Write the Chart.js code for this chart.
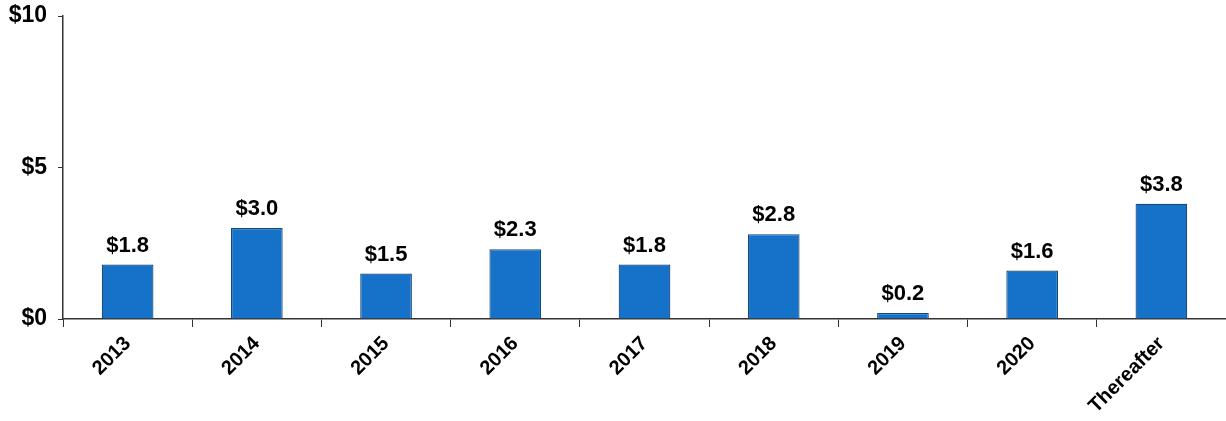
<!DOCTYPE html>
<html>
<head>
<meta charset="utf-8">
<script src="https://cdn.jsdelivr.net/npm/chart.js@4/dist/chart.umd.min.js"></script>
<style>
  html, body { margin: 0; padding: 0; background: #fff; }
  #wrap { width: 1226px; height: 421px; }
</style>
</head>
<body>
<div id="wrap"><canvas id="chart"></canvas></div>
<script>
// maturities by year, $ billions
const categories = ['2013', '2014', '2015', '2016', '2017', '2018', '2019', '2020', 'Thereafter'];
const amounts = [1.8, 3.0, 1.5, 2.3, 1.8, 2.8, 0.2, 1.6, 3.8];
const yTicks = [0, 5, 10];

const FONT = '"Liberation Sans", Arial, sans-serif';

// draws the $ value above each bar
const valueLabels = {
    id: 'valueLabels',
    afterDatasetsDraw(chart) {
        const ctx = chart.ctx;
        const meta = chart.getDatasetMeta(0);
        ctx.save();
        ctx.font = 'bold 22px ' + FONT;
        ctx.fillStyle = '#000';
        ctx.textAlign = 'center';
        ctx.textBaseline = 'bottom';
        meta.data.forEach((bar, i) => {
            ctx.fillText('$' + amounts[i].toFixed(1), bar.x, bar.y - 8);
        });
        ctx.restore();
    }
};

new Chart(document.getElementById('chart'), {
    type: 'bar',
    data: {
        labels: categories,
        datasets: [{
            data: amounts,
            backgroundColor: '#1672c8',
            borderColor: '#17467a',
            borderWidth: 1.2,
            barPercentage: 0.4,
            categoryPercentage: 1.0
        }]
    },
    options: {
        responsive: true,
        maintainAspectRatio: false,
        animation: false,
        layout: { padding: { top: 16, right: 0, left: 0, bottom: 0 } },
        plugins: {
            legend: { display: false },
            tooltip: { enabled: false }
        },
        scales: {
            x: {
                grid: {
                    offset: true,
                    drawOnChartArea: false,
                    drawTicks: true,
                    tickLength: 8,
                    color: '#333'
                },
                border: { color: '#333', width: 1.5 },
                ticks: {
                    color: '#000',
                    font: { family: FONT, size: 20, weight: 'bold' },
                    minRotation: 45,
                    maxRotation: 45,
                    padding: 5
                },
                afterFit(scale) {
                    scale.height = 421 - 319;
                    scale.paddingLeft = 0;
                    scale.paddingRight = 0;
                }
            },
            y: {
                min: 0,
                max: 10,
                afterBuildTicks(scale) {
                    scale.ticks = yTicks.map(v => ({ value: v }));
                },
                grid: {
                    drawOnChartArea: false,
                    drawTicks: true,
                    tickLength: 5,
                    color: '#333'
                },
                border: { color: '#333', width: 1.5 },
                ticks: {
                    color: '#000',
                    font: { family: FONT, size: 23, weight: 'bold' },
                    padding: 11,
                    callback: v => '$' + v
                },
                afterFit(scale) {
                    scale.width = 63;
                    // let the top label hang above the plot area
                    scale.paddingTop = 0;
                    scale.paddingBottom = 0;
                }
            }
        }
    },
    plugins: [valueLabels]
});
</script>
</body>
</html>
